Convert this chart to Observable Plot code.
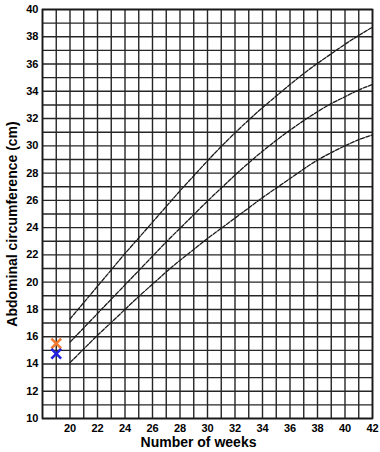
<!DOCTYPE html>
<html>
<head>
<meta charset="utf-8">
<script src="https://cdn.jsdelivr.net/npm/d3@7"></script>
<script src="https://cdn.jsdelivr.net/npm/@observablehq/plot@0.6"></script>
<style>
  html, body { margin: 0; padding: 0; background: #fff; }
</style>
</head>
<body>
<div id="chart"></div>
<script>
// Gestational age (weeks) for the reference curves
const weeks = [20,21,22,23,24,25,26,27,28,29,30,31,32,33,34,35,36,37,38,39,40,41,42];
// Upper reference curve (cm)
const upperCurve = [17.3,18.5,19.7,20.9,22.1,23.25,24.4,25.55,26.7,27.8,28.9,29.95,30.95,31.9,32.8,33.65,34.5,35.3,36.05,36.75,37.45,38.1,38.7];
// Middle reference curve (cm)
const middleCurve = [15.6,16.65,17.7,18.75,19.8,20.85,21.9,22.95,23.95,24.95,25.95,26.9,27.85,28.75,29.6,30.4,31.15,31.85,32.5,33.1,33.6,34.1,34.5];
// Lower reference curve (cm)
const lowerCurve = [14.1,15.1,16.1,17.05,18.0,18.95,19.85,20.75,21.6,22.4,23.2,23.95,24.7,25.45,26.2,26.9,27.6,28.3,28.95,29.5,30.0,30.45,30.8];
// Measured points
const pointNames = ["orange", "blue"];
const pointWeeks = [19, 19];
const pointValues = [15.5, 14.75];
// Tick labels
const xTicks = [20,22,24,26,28,30,32,34,36,38,40,42];
const yTicks = [10,12,14,16,18,20,22,24,26,28,30,32,34,36,38,40];
const xLabel = "Number of weeks";
const yLabel = "Abdominal circumference (cm)";

const curves = [];
[["upper", upperCurve], ["middle", middleCurve], ["lower", lowerCurve]].forEach(([name, vals]) => {
  weeks.forEach((w, i) => curves.push({series: name, week: w, value: vals[i]}));
});
const points = pointNames.map((n, i) => ({name: n, week: pointWeeks[i], value: pointValues[i]}));
const pointColor = {orange: "#f07a30", blue: "#2020e0"};

const gridX = d3.range(18, 43);
const gridY = d3.range(10, 41);

const font = "'Liberation Sans', Arial, sans-serif";

const chart = Plot.plot({
  width: 380,
  height: 452,
  marginLeft: 42,
  marginRight: 8,
  marginTop: 9,
  marginBottom: 34,
  x: {domain: [18, 42]},
  y: {domain: [10, 40]},
  style: {fontFamily: font, fontWeight: "bold", fontSize: "11px", color: "#000", background: "#fff", overflow: "visible"},
  marks: [
    Plot.ruleX(gridX, {stroke: "#262626", strokeWidth: 1.4}),
    Plot.ruleY(gridY, {stroke: "#262626", strokeWidth: 1.4}),
    Plot.frame({stroke: "#1a1a1a", strokeWidth: 1.7}),
    Plot.line(curves, {x: "week", y: "value", z: "series", stroke: "#1a1a1a", strokeWidth: 1.3, strokeDasharray: "4,1.5", curve: "natural"}),
    Plot.dot(points, {x: "week", y: "value", symbol: "times", r: 4.5, stroke: d => pointColor[d.name], strokeWidth: 2.6}),
    Plot.axisX(xTicks, {tickSize: 0, tickPadding: 6, label: null, fontSize: 11, fontWeight: "bold"}),
    Plot.axisY(yTicks, {tickSize: 0, tickPadding: 4, label: null, fontSize: 11, fontWeight: "bold"}),
    Plot.text([xLabel], {frameAnchor: "bottom", dy: 28, dx: -9, fontSize: 14, fontWeight: "bold", fill: "#000", text: d => d}),
    Plot.text([yLabel], {frameAnchor: "left", textAnchor: "middle", dx: -30, dy: 10, rotate: -90, fontSize: 14, fontWeight: "bold", fill: "#000", text: d => d})
  ]
});
document.getElementById("chart").appendChild(chart);
</script>
</body>
</html>
